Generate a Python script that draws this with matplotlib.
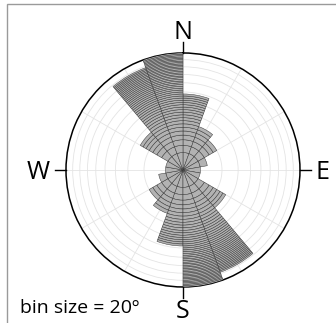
import numpy as np
import matplotlib
matplotlib.use('Agg')
from matplotlib import pyplot as plt

# equal-area rose of axial orientations, 20 degree bins
bin_size = 20
bin_starts = [0, 20, 40, 60, 80, 100, 120, 140, 160]
counts = [19, 7, 5, 2, 1, 1, 8, 39, 45]   # mirrored onto 180-360
n_max = 45
ring_counts = [5, 10, 15, 20, 25, 30, 35, 40]

plt.rcParams['font.family'] = ['Open Sans', 'DejaVu Sans']

fig = plt.figure(figsize=(3.36, 3.23), dpi=100)
ax = fig.add_axes([0.1964, 0.1115, 0.6964, 0.7245], projection='polar')
ax.set_theta_zero_location('N')
ax.set_theta_direction(-1)

rmax = np.sqrt(n_max)
width = np.deg2rad(bin_size)

# one thin segment per measurement, stacked outwards
for start, n in zip(bin_starts, counts):
    for offset in (0, 180):
        theta = np.deg2rad(start + offset + bin_size / 2)
        k = np.arange(1, n + 1)
        bottoms = np.sqrt(k - 1)
        heights = np.sqrt(k) - bottoms
        ax.bar(np.full(n, theta), heights, bottom=bottoms, width=width,
               facecolor='#b2b2b2', edgecolor='#383838', linewidth=0.35,
               zorder=3)

ax.set_ylim(0, rmax)
ax.set_yticks(np.sqrt(ring_counts))
ax.set_xticks(np.deg2rad(np.arange(0, 360, 30)))
ax.set_yticklabels([])
ax.set_xticklabels([])
ax.grid(True, color='#e4e4e4', linewidth=0.6)
ax.set_axisbelow(True)
ax.spines['polar'].set_color('black')
ax.spines['polar'].set_linewidth(1.1)
ax.tick_params(length=0)

# compass ticks and letters
for ang, lab, rl in [(0, 'N', 1.2), (90, 'E', 1.19), (180, 'S', 1.185), (270, 'W', 1.24)]:
    t = np.deg2rad(ang)
    ax.plot([t, t], [rmax, rmax * 1.09], color='black', lw=1.0, clip_on=False, zorder=5)
    ax.text(t, rmax * rl, lab, ha='center', va='center_baseline', fontsize=18, clip_on=False)

fig.text(0.06, 0.045, 'bin size = 20º', fontsize=14, ha='left', va='center')

# grey frame
fig.add_artist(plt.Rectangle((0.021, -0.01), 0.99, 0.998, transform=fig.transFigure,
                             fill=False, edgecolor='#9a9a9a', linewidth=1.0))

fig.savefig('out.png', dpi=100)
